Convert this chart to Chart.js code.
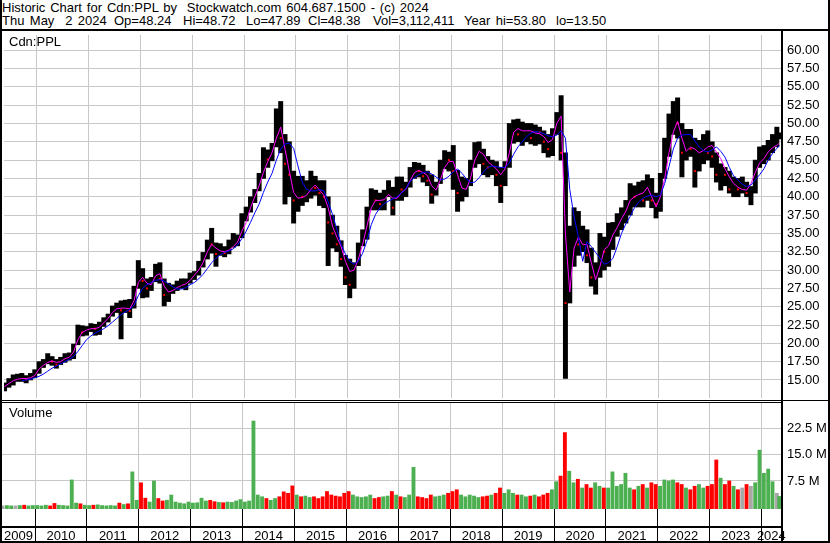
<!DOCTYPE html>
<html>
<head>
<meta charset="utf-8">
<script src="https://cdn.jsdelivr.net/npm/chart.js@4.4.1/dist/chart.umd.min.js"></script>
<style>
  body { margin: 0; background: #fff; }
  #wrap { position: relative; width: 830px; height: 543px; overflow: hidden; background: #fff;
          font-family: "Liberation Sans", Arial, sans-serif; color: #000; }
  .txt { position: absolute; font-size: 13px; line-height: 13px; white-space: pre; word-spacing: 1.8px; }
  .ln { position: absolute; background: #000; }
  canvas { position: absolute; left: 0; }
</style>
</head>
<body>
<div id="wrap">
  <div class="txt" style="left:2px; top:1px; word-spacing:1.25px">Historic Chart for Cdn:PPL by  Stockwatch.com 604.687.1500 - (c) 2024</div>
  <div class="txt" style="left:2px; top:14px">Thu May  2 2024</div>
  <div class="txt" style="left:114px; top:14px">Op=48.24</div>
  <div class="txt" style="left:183px; top:14px">Hi=48.72</div>
  <div class="txt" style="left:246px; top:14px">Lo=47.89</div>
  <div class="txt" style="left:308px; top:14px">Cl=48.38</div>
  <div class="txt" style="left:373px; top:14px">Vol=3,112,411</div>
  <div class="txt" style="left:464px; top:14px">Year hi=53.80</div>
  <div class="txt" style="left:556px; top:14px">lo=13.50</div>

  <canvas id="price" width="830" height="371" style="top:31px"></canvas>
  <canvas id="vol" width="830" height="141" style="top:402px"></canvas>

  <div class="txt" style="left:9px; top:35px">Cdn:PPL</div>
  <div class="txt" style="left:9px; top:406px">Volume</div>

  <!-- frame and panel separators -->
  <div class="ln" style="left:0; top:29px; width:830px; height:2px"></div>
  <div class="ln" style="left:0; top:400px; width:830px; height:1px"></div>
  <div class="ln" style="left:0; top:402px; width:781px; height:1px"></div>
  <div class="ln" style="left:0; top:526px; width:781px; height:2px"></div>
  <div class="ln" style="left:0; top:541px; width:830px; height:2px"></div>
  <div class="ln" style="left:0; top:0; width:2px; height:543px"></div>
  <div class="ln" style="left:828px; top:0; width:2px; height:543px"></div>
  <div class="ln" style="left:781px; top:31px; width:2px; height:512px"></div>
</div>

<script>
// monthly bars, May 2009 .. May 2 2024 (last one is only two days)
const highs = [
  14.6, 15.2, 15.7, 15.8, 15.9, 15.6, 15.9, 16.4,
  17.5, 17.8, 18.6, 18.2, 17.8, 18.1, 18.6, 18.7, 19.9, 22.5, 22.4, 22.3,
  22.7, 22.6, 22.9, 23.5, 24.0, 25.1, 25.5, 25.8, 25.9, 26.0, 27.8, 31.3,
  30.2, 28.8, 29.0, 30.8, 31.0, 28.8, 28.2, 28.0, 28.5, 28.8, 28.8, 29.6,
  29.8, 31.2, 32.4, 34.1, 35.7, 33.7, 33.6, 33.2, 34.1, 35.0, 34.8, 37.7,
  38.6, 40.0, 41.0, 43.2, 46.7, 46.4, 47.3, 52.0, 53.0, 48.5, 47.5, 43.5,
  42.8, 42.8, 42.2, 43.5, 42.8, 42.2, 42.2, 40.0, 37.5, 36.0, 34.0, 32.0,
  31.5, 31.0, 33.7, 35.5, 38.6, 41.1, 40.9, 40.5, 40.9, 42.2, 41.3, 42.7,
  42.7, 42.0, 44.0, 44.7, 44.6, 44.3, 43.5, 43.0, 42.0, 45.0, 46.3, 46.1,
  47.0, 43.6, 42.7, 42.5, 45.0, 47.4, 47.5, 46.5, 45.5, 45.0, 44.8, 44.0,
  44.8, 50.0, 50.5, 50.6, 50.2, 50.0, 50.0, 49.8, 49.5, 49.0, 48.5, 49.3,
  51.5, 53.8, 46.0, 36.0, 38.5, 38.0, 36.0, 35.5, 33.0, 31.0, 35.0, 34.5,
  36.4, 36.5, 37.7, 38.5, 39.5, 41.8, 41.5, 42.0, 42.2, 43.0, 42.5, 40.5,
  43.2, 48.0, 51.3, 53.0, 53.5, 50.0, 49.2, 49.2, 48.0, 47.7, 48.5, 49.0,
  47.5, 46.0, 44.5, 44.0, 43.5, 42.7, 42.5, 42.7, 42.0, 41.4, 45.0, 46.8,
  47.0, 47.7, 48.5, 49.5, 48.72
];
const lows = [
  13.5, 14.0, 14.3, 14.8, 14.8, 14.6, 15.0, 15.3,
  15.9, 16.7, 17.2, 17.0, 16.6, 17.1, 17.4, 17.7, 17.9, 19.8, 21.0, 21.1,
  21.6, 21.1, 21.2, 22.3, 22.9, 23.7, 24.2, 20.6, 24.2, 23.5, 24.8, 27.5,
  26.2, 26.3, 27.2, 28.4, 28.2, 25.1, 25.7, 26.8, 27.2, 27.5, 27.3, 28.2,
  28.7, 29.3, 30.4, 31.5, 32.3, 30.5, 32.0, 31.8, 32.2, 33.1, 33.3, 34.4,
  36.7, 37.9, 39.2, 40.8, 42.5, 44.0, 44.9, 46.8, 46.0, 39.0, 40.0, 36.4,
  38.0, 38.8, 39.3, 39.8, 40.2, 38.8, 38.5, 30.6, 33.0, 32.5, 30.5, 28.0,
  26.2, 27.5, 30.6, 33.3, 34.2, 38.2, 38.2, 38.2, 38.2, 40.0, 37.5, 39.5,
  39.5, 40.0, 41.3, 42.5, 42.7, 42.0, 41.5, 39.1, 40.2, 41.8, 43.8, 43.5,
  41.0, 38.0, 39.4, 40.0, 41.5, 44.0, 44.5, 43.0, 42.7, 43.0, 41.5, 39.2,
  41.5, 44.0, 47.3, 47.5, 47.0, 47.5, 47.2, 47.0, 47.2, 46.0, 45.4, 45.6,
  48.5, 45.0, 15.2, 25.5, 30.5, 32.0, 32.5, 31.0, 27.8, 26.7, 29.0, 30.0,
  30.5, 32.8, 34.6, 35.5, 36.4, 37.5, 38.6, 38.6, 38.6, 39.5, 38.5, 37.1,
  38.0, 42.5, 45.5, 48.5, 48.0, 42.7, 45.0, 45.5, 41.3, 43.5, 44.5, 45.0,
  44.0, 42.0, 40.9, 41.5, 40.5, 40.0, 40.0, 40.5, 40.0, 38.9, 40.5, 44.0,
  44.5, 45.0, 46.0, 46.8, 47.89
];
const closes = [
  14.3, 14.6, 15.3, 15.3, 15.4, 15.1, 15.6, 16.0,
  17.0, 17.3, 17.9, 17.5, 17.1, 17.8, 18.2, 18.3, 19.5, 21.8, 21.5, 21.9,
  22.2, 22.0, 22.5, 23.0, 23.7, 24.6, 24.9, 24.5, 24.8, 24.4, 27.2, 29.8,
  28.5, 27.5, 28.4, 30.2, 28.8, 26.6, 27.0, 27.3, 27.9, 28.1, 28.3, 29.1,
  29.5, 30.6, 31.8, 33.6, 33.5, 32.2, 32.6, 32.3, 33.0, 33.6, 34.5, 37.0,
  38.0, 39.2, 40.6, 42.6, 45.5, 45.1, 46.6, 51.0, 48.0, 44.5, 43.0, 39.5,
  40.5, 40.0, 40.6, 42.0, 41.2, 40.5, 40.0, 36.5, 35.0, 33.5, 31.5, 29.0,
  28.0, 29.5, 32.5, 35.0, 37.5, 40.0, 39.5, 39.0, 40.0, 41.5, 38.5, 41.5,
  41.0, 41.5, 43.5, 43.8, 43.5, 42.8, 42.2, 40.3, 41.5, 44.3, 45.5, 45.0,
  43.5, 40.5, 41.5, 41.8, 44.5, 46.2, 46.5, 44.5, 44.0, 44.2, 43.0, 41.5,
  44.3, 48.5, 49.5, 48.5, 49.0, 49.5, 48.0, 49.0, 48.8, 47.5, 46.5, 48.5,
  51.0, 46.0, 25.5, 31.5, 35.0, 33.5, 34.5, 32.0, 29.0, 29.5, 33.5, 32.5,
  34.0, 35.5, 36.5, 37.5, 38.5, 40.5, 40.0, 41.0, 39.5, 42.0, 39.5, 39.0,
  42.5, 46.0, 50.0, 51.5, 50.0, 46.0, 47.5, 46.5, 43.5, 45.5, 46.5, 46.0,
  45.5, 43.0, 43.5, 43.0, 41.0, 41.5, 41.0, 41.0, 40.5, 40.5, 44.5, 45.5,
  45.8, 46.5, 48.0, 48.0, 48.38
];
// short average (magenta) and long average (blue)
const fastMA = [
  14.1, 14.5, 14.9, 15.1, 15.2, 15.2, 15.3, 15.6,
  16.5, 17.0, 17.4, 17.6, 17.4, 17.5, 17.9, 18.1, 18.8, 20.5, 21.5, 21.8,
  22.0, 22.0, 22.2, 22.8, 23.4, 24.2, 24.7, 24.8, 24.8, 24.7, 25.8, 28.3,
  29.0, 28.2, 28.0, 29.2, 29.5, 27.8, 27.0, 27.2, 27.6, 27.9, 28.1, 28.6,
  29.3, 30.0, 31.0, 32.5, 33.5, 33.0, 32.6, 32.5, 32.7, 33.2, 33.8, 35.3,
  36.5, 38.5, 40.0, 41.5, 43.3, 44.8, 46.0, 48.0, 49.5, 46.5, 43.5, 40.6,
  39.8, 39.9, 40.2, 41.0, 41.6, 40.9, 40.2, 38.5, 36.0, 34.5, 33.2, 31.2,
  29.8, 30.0, 31.5, 33.5, 36.0, 38.5, 39.5, 39.5, 39.6, 40.3, 39.8, 39.8,
  40.6, 41.0, 42.2, 43.3, 43.6, 43.3, 42.9, 41.5, 40.9, 42.3, 44.0, 44.8,
  44.8, 43.0, 41.2, 41.0, 42.5, 45.0, 46.2, 45.8, 44.8, 44.3, 43.8, 43.0,
  43.8, 46.0, 48.8, 49.3, 49.0, 49.0, 49.0, 48.7, 48.6, 48.2, 47.4, 47.8,
  50.0, 51.0, 35.0, 27.0, 33.0, 34.5, 33.5, 33.5, 31.0, 28.7, 30.5, 32.8,
  33.3, 34.8, 35.8, 37.0, 38.0, 39.5, 40.0, 40.3, 40.5, 41.3, 40.0, 38.6,
  40.0, 42.5, 46.0, 48.8, 50.3, 48.0, 46.2, 46.8, 46.5, 46.0, 46.3, 46.8,
  47.0, 46.1, 45.2, 43.8, 42.7, 41.8, 41.3, 41.0, 40.9, 41.8, 43.3, 44.6,
  45.2, 46.1, 46.7, 47.0, 47.3
];
const slowMA = [
  null, null, null, null, 14.9, 15.0, 15.1, 15.3,
  15.5, 15.8, 16.2, 16.6, 16.9, 17.2, 17.5, 17.8, 18.2, 18.9, 19.7, 20.5,
  21.0, 21.4, 21.7, 22.0, 22.4, 22.9, 23.4, 23.9, 24.3, 24.6, 25.2, 26.5,
  27.5, 28.0, 28.3, 28.6, 28.7, 28.5, 28.1, 27.7, 27.4, 27.4, 27.6, 28.0,
  28.3, 28.8, 29.4, 30.2, 31.0, 31.6, 32.1, 32.4, 32.6, 32.9, 33.4, 34.3,
  35.3, 36.5, 37.8, 39.0, 40.6, 42.0, 43.2, 45.0, 46.5, 47.2, 47.3, 46.6,
  44.2, 42.0, 41.0, 40.8, 40.8, 41.0, 40.8, 39.3, 37.6, 35.6, 33.5, 32.2,
  31.2, 30.8, 31.2, 32.3, 34.0, 36.2, 37.6, 38.5, 39.1, 39.4, 39.7, 40.0,
  40.5, 41.1, 42.1, 42.6, 43.0, 43.3, 43.4, 43.1, 42.7, 42.3, 42.4, 42.8,
  43.4, 43.8, 43.2, 42.5, 41.9, 42.0, 42.6, 43.4, 44.0, 44.2, 44.1, 44.0,
  44.0, 44.6, 45.8, 46.8, 47.5, 48.2, 48.7, 48.9, 48.8, 48.6, 48.3, 48.2,
  48.4, 49.0, 48.0, 41.0, 37.3, 34.5, 31.2, 33.9, 33.2, 32.4, 31.6, 30.8,
  31.0, 31.6, 33.2, 35.0, 36.3, 37.3, 38.5, 39.3, 39.8, 40.1, 40.2, 40.0,
  40.2, 41.8, 44.1, 46.5, 48.0, 48.4, 48.5, 48.5, 47.6, 46.8, 46.3, 46.1,
  46.4, 46.8, 46.2, 45.4, 44.0, 42.8, 42.3, 41.7, 41.4, 41.6, 42.3, 43.0,
  43.8, 45.0, 45.9, 46.6, 47.0
];
// volume, millions of shares
const volumes = [
  0.4, 0.5, 0.4, 0.4, 0.5, 0.6, 0.4, 0.5,
  0.5, 0.4, 0.6, 0.4, 1.1, 0.6, 0.5, 0.4, 7.8, 1.2, 1.0, 0.6,
  0.5, 0.6, 0.7, 0.5, 0.4, 0.5, 0.4, 1.2, 0.8, 1.0, 10.1, 2.0,
  7.0, 2.6, 1.5, 7.5, 2.5, 1.8, 2.0, 3.5, 1.5, 1.2, 1.0, 1.5,
  1.2, 1.3, 2.6, 1.8, 2.0, 1.6, 1.4, 1.3, 1.5, 1.4, 1.8, 2.2,
  1.5, 1.8, 24.6, 3.5, 3.0, 2.5, 2.0, 2.5, 3.0, 4.4, 4.0, 6.1,
  3.5, 3.0, 3.2, 2.8, 3.0, 2.5, 3.0, 4.5, 3.5, 3.2, 3.0, 4.0,
  4.5, 3.5, 3.0, 2.8, 3.0, 3.5, 2.5, 2.8, 3.0, 3.2, 4.5, 3.5,
  3.0, 2.8, 3.5, 11.4, 3.0, 2.8, 2.5, 3.5, 3.0, 3.2, 3.5, 4.0,
  4.5, 5.0, 3.5, 3.0, 3.5, 3.2, 2.8, 3.0, 3.2, 3.5, 4.0, 5.5,
  4.0, 5.0, 4.0, 3.5, 3.5, 3.0, 3.2, 3.5, 3.0, 3.5, 4.0, 5.0,
  7.3, 8.9, 21.3, 10.3, 7.0, 8.0, 5.5, 6.5, 5.5, 7.0, 6.0, 5.5,
  5.5, 10.1, 6.0, 6.5, 9.7, 5.5, 5.0, 6.0, 6.5, 5.5, 7.0, 6.5,
  6.0, 7.8, 7.5, 7.8, 7.0, 6.5, 5.5, 5.0, 6.0, 6.5, 5.5, 6.0,
  6.5, 13.5, 8.3, 6.5, 7.5, 6.0, 5.0, 5.5, 6.5, 6.0, 7.0, 16.3,
  9.7, 10.9, 7.3, 4.0, 3.1
];
const priceTicks = [15, 17.5, 20, 22.5, 25, 27.5, 30, 32.5, 35, 37.5, 40, 42.5, 45, 47.5, 50, 52.5, 55, 57.5, 60];
const volumeTicks = [7.5, 15, 22.5];
const yearTicks = [2010, 2011, 2012, 2013, 2014, 2015, 2016, 2017, 2018, 2019, 2020, 2021, 2022, 2023, 2024];
const yearLabels = [2009, 2010, 2011, 2012, 2013, 2014, 2015, 2016, 2017, 2018, 2019, 2020, 2021, 2022, 2023, 2024];

const X_MIN = 2009.364, X_MAX = 2024.372;
const GRID = '#c8c8c8';
const FONT = { family: "'Liberation Sans', Arial, sans-serif", size: 13 };

// decimal year at the middle of each monthly bar
const when = highs.map((_, i) => {
  const frac = i === highs.length - 1 ? 1.5 / 31 : 0.5;
  return 2009 + (4 + i + frac) / 12;
});
const pts = arr => arr.map((y, i) => ({ x: when[i], y }));

function xAxis(extra) {
  return Object.assign({
    type: 'linear', min: X_MIN, max: X_MAX, offset: false,
    afterBuildTicks: s => { s.ticks = yearTicks.map(v => ({ value: v })); },
    ticks: { display: false },
    border: { display: false },
  }, extra);
}

// right-hand value axis with a fixed width and no extra label padding
function yAxis(min, max, ticks, fmt) {
  return {
    position: 'right', min, max,
    afterBuildTicks: s => { s.ticks = ticks.map(v => ({ value: v })); },
    ticks: { font: FONT, color: '#000', padding: 6, callback: fmt },
    grid: { color: GRID, drawTicks: false },
    border: { display: false },
    afterFit: s => { s.width = 49; s.paddingTop = 0; s.paddingBottom = 0; }
  };
}

new Chart(document.getElementById('price'), {
  type: 'bar',
  data: {
    datasets: [
      { type: 'line', data: pts(slowMA), borderColor: '#0000ff', borderWidth: 1, pointRadius: 0, spanGaps: false },
      { type: 'line', data: pts(fastMA), borderColor: '#ff00ff', borderWidth: 1, pointRadius: 0 },
      { type: 'line', data: pts(closes).filter((p, i) => i > 0 && closes[i] < closes[i - 1]),
        showLine: false, pointStyle: 'rect', pointRadius: 1.4, pointBorderWidth: 0,
        pointBackgroundColor: '#ff0000' },
      { type: 'bar', data: lows.map((lo, i) => ({ x: when[i], y: [lo, highs[i]] })),
        backgroundColor: '#000', barThickness: 4.3, grouped: false },
    ]
  },
  options: {
    responsive: false, animation: false, devicePixelRatio: 1,
    layout: { padding: { left: 2, top: 1, right: 0, bottom: 2 } },
    plugins: { legend: { display: false }, tooltip: { enabled: false } },
    scales: {
      x: xAxis({ grid: { color: GRID, drawTicks: false, offset: false },
                 afterFit: s => { s.height = 0; s.paddingLeft = 0; s.paddingRight = 0; } }),
      y: yAxis(12.54, 62.07, priceTicks, v => v.toFixed(2))
    }
  }
});

const yearNames = {
  id: 'yearNames',
  afterDraw(chart) {
    const { ctx, scales: { x } } = chart;
    ctx.save();
    ctx.font = '13px ' + FONT.family;
    ctx.fillStyle = '#000';
    ctx.textAlign = 'center';
    ctx.textBaseline = 'alphabetic';
    yearLabels.forEach(yr => {
      const lo = Math.max(yr, x.min), hi = Math.min(yr + 1, x.max);
      if (hi <= lo) return;
      ctx.fillText(String(yr), x.getPixelForValue((lo + hi) / 2), chart.chartArea.bottom + 31);
    });
    ctx.restore();
  }
};

const volColors = closes.map((c, i) => {
  const prev = i > 0 ? closes[i - 1] : c;
  return c > prev ? '#4caf50' : c < prev ? '#ff0000' : '#a8a8a8';
});

new Chart(document.getElementById('vol'), {
  type: 'bar',
  data: {
    datasets: [{ data: pts(volumes), backgroundColor: volColors, barThickness: 3.2, base: -0.49, grouped: false }]
  },
  options: {
    responsive: false, animation: false, devicePixelRatio: 1,
    layout: { padding: { left: 2, top: 1, right: 0, bottom: 0 } },
    plugins: { legend: { display: false }, tooltip: { enabled: false } },
    scales: {
      x: xAxis({ grid: { color: GRID, tickColor: '#000', tickLength: 34, offset: false },
                 afterFit: s => { s.height = 34; s.paddingLeft = 0; s.paddingRight = 0; } }),
      y: yAxis(-0.49, 29.74, volumeTicks, v => v.toFixed(1) + ' M')
    }
  },
  plugins: [yearNames]
});
</script>
</body>
</html>
